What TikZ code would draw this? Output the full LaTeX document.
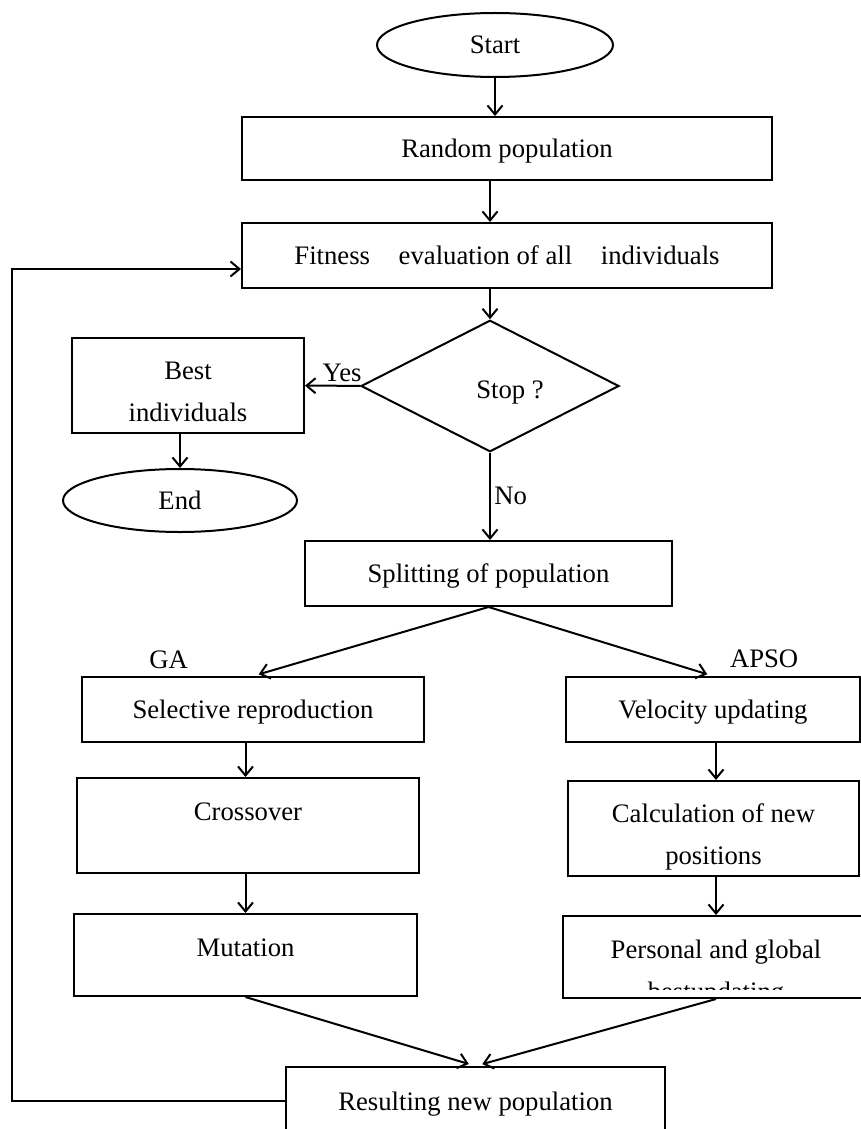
\documentclass[tikz,border=0pt]{standalone}
\usepackage{fontspec}
\setmainfont{Liberation Serif}
\usetikzlibrary{shapes.geometric,arrows.meta,positioning}

\newcommand{\rowstrut}{\rule[-6pt]{0pt}{41pt}}

\begin{document}
\begin{tikzpicture}[x=1pt, y=-1pt,
    line width=2pt,
    >={Straight Barb[length=9pt,width=15pt]},
    every node/.style={font=\fontsize{26.7pt}{42pt}\selectfont},
    box/.style={rectangle, draw, inner sep=0pt, text height=18pt, text depth=0pt},
    twobox/.style={rectangle, draw, inner sep=0pt, align=center},
    term/.style={ellipse, draw, inner sep=0pt, text height=18pt, text depth=0pt},
    decision/.style={diamond, draw, inner sep=0pt, minimum width=258pt, minimum height=115pt},
    tag/.style={inner sep=0pt},
    arrow/.style={->}
]
\useasboundingbox (0,0) rectangle (861,1129);

% Main flow
\node[term, minimum width=236pt, minimum height=64pt] (start) at (495,45) {Start};
\node[box, minimum width=530pt, minimum height=63pt] (random) at (507,148.5) {Random population};
\node[box, minimum width=530pt, minimum height=65pt] (fitness) at (507,255.5) {Fitness\hspace{22pt} evaluation of all\hspace{22pt} individuals};
\node[decision, text height=24pt, text depth=0pt] (stop) at (490,386) {\hspace{40pt}Stop ?};
\node[twobox, minimum width=232pt, minimum height=95pt] (best) at (188,385.5) {\rowstrut Best\\individuals\rowstrut};
\node[term, minimum width=234pt, minimum height=63pt] (end) at (180,500.5) {End};
\node[box, minimum width=367pt, minimum height=65pt] (split) at (488.5,573.5) {Splitting of population};

% GA branch
\node[box, minimum width=342pt, minimum height=65pt] (selective) at (253,709.5) {Selective reproduction};
\node[box, minimum width=342pt, minimum height=95pt, text depth=29pt] (crossover) at (248,825.5) {Crossover};
\node[box, minimum width=343pt, minimum height=82pt, text depth=16pt] (mutation) at (245.5,955) {Mutation};
\node[tag, above left=6pt and 64pt of selective.north] (ga) {GA};

% APSO branch
\node[box, minimum width=294pt, minimum height=65pt] (velocity) at (713,709.5) {Velocity updating};
\node[twobox, minimum width=291pt, minimum height=95pt] (calc) at (713.5,828.5) {\rowstrut Calculation of new\\positions\rowstrut};
\node[box, minimum width=306pt, minimum height=82pt] (personal) at (716,957) {};
\begin{scope}
\clip (personal.north west) rectangle ([yshift=10pt]personal.south east);
\node[align=center, anchor=north, inner sep=0pt] (personaltext) at ([yshift=-23.8pt]personal.north) {Personal and global\\bestupdating};
\end{scope}
\node[tag, above right=7pt and 16pt of velocity.north] (apso) {APSO};

\node[box, minimum width=379pt, minimum height=68pt] (result) at (475.5,1101) {Resulting new population};

% Arrows - main flow
\draw[arrow] (start) -- (start |- random.north);
\draw[arrow] (random.south -| stop) -- (fitness.north -| stop);
\draw[arrow] (fitness.south -| stop) -- (stop.north);
\draw[arrow] (stop) -- node[above, pos=0.33] {Yes} (best);
\draw[arrow] (best.south -| end) -- (end.north);
\draw[arrow] (stop.south) -- node[right] {No} (stop.south |- split.north);

% Arrows - branches
\draw[arrow, shorten >=6pt] (split.south) -- (selective.north);
\draw[arrow, shorten >=6pt] (split.south) -- (velocity.north);
\draw[arrow] (selective.south -| mutation) -- (crossover.north -| mutation);
\draw[arrow] (crossover.south -| mutation) -- (mutation.north);
\draw[arrow] (velocity.south -| personal) -- (calc.north -| personal);
\draw[arrow] (calc.south -| personal) -- (personal.north);
\draw[arrow, shorten >=7pt] (mutation.south) -- (result.north);
\draw[arrow, shorten >=7pt] (personal.south) -- (result.north);

% Loop back
\coordinate (loopbottom) at (12,1101);
\coordinate (looptop) at (12,269);
\draw[arrow] (result.west) -- (loopbottom) -- (looptop) -- (looptop -| fitness.west);

\end{tikzpicture}
\end{document}
